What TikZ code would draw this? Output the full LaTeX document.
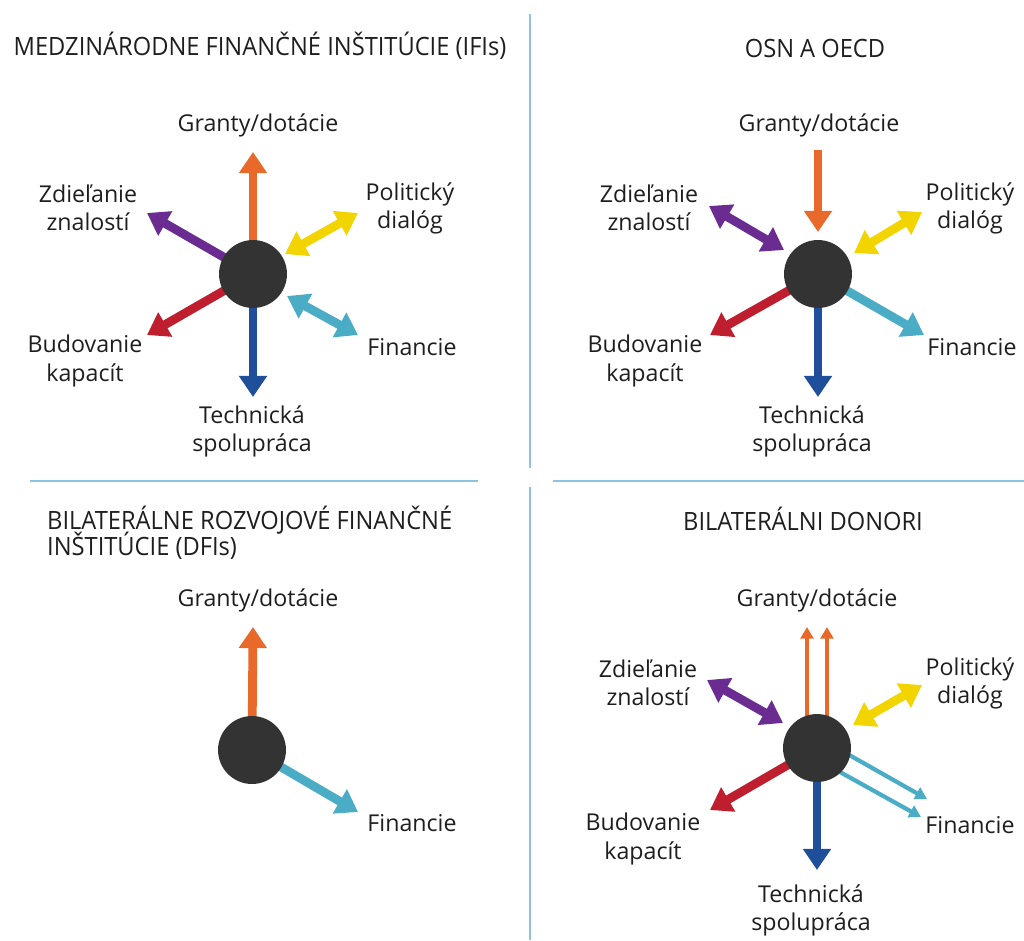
\documentclass[tikz,border=0pt]{standalone}
\usepackage{fontspec}
\usepackage{graphicx}
\setmainfont{Open Sans}
\usetikzlibrary{arrows.meta}
\definecolor{corange}{HTML}{E8692A}
\definecolor{cpurple}{HTML}{6A2C91}
\definecolor{cyellow}{HTML}{F2D500}
\definecolor{cred}{HTML}{BE1E2D}
\definecolor{ccyan}{HTML}{4BACC6}
\definecolor{cblue}{HTML}{1F4E9A}
\definecolor{hubgray}{HTML}{333333}
\definecolor{divblue}{HTML}{8DC3E0}
\definecolor{txt}{HTML}{1E1E1E}
\newcommand\ttlsc[1]{\scalebox{0.94}[1]{#1}}
\tikzset{
  lbl/.style={font=\fontsize{19.8}{24}\selectfont, align=center, text=txt, inner sep=0},
  ttl/.style={font=\fontsize{21.5}{24}\selectfont, text=txt, inner sep=0},
  hub/.style={circle, fill=hubgray, minimum size=58pt, inner sep=0},
  fat/.style={line width=7.5pt, -{Triangle[length=18pt,width=23pt]}},
  fatboth/.style={line width=7.5pt, {Triangle[length=18pt,width=23pt]}-{Triangle[length=18pt,width=23pt]}},
  thinarr/.style={line width=3.6pt, -{Triangle[length=10pt,width=11pt]}},
  divider/.style={draw=divblue, line width=1.3pt}
}
\begin{document}
\begin{tikzpicture}[x=0.03cm,y=-0.03cm]
\useasboundingbox (0,0) rectangle (1024,940);
% dividers
\coordinate (v1a) at (530,14); \coordinate (v1b) at (530,468);
\coordinate (v2a) at (530,487); \coordinate (v2b) at (530,940);
\coordinate (h1a) at (30,481); \coordinate (h1b) at (478,481);
\coordinate (h2a) at (553,481); \coordinate (h2b) at (1024,481);
\draw[divider] (v1a) -- (v1b);
\draw[divider] (v2a) -- (v2b);
\draw[divider] (h1a) -- (h1b);
\draw[divider] (h2a) -- (h2b);

% titles
\node[ttl, anchor=base] (t1) at (260,55) {\ttlsc{MEDZINÁRODNE FINANČNÉ INŠTITÚCIE (IFIs)}};
\node[ttl, anchor=base] (t2) at (815,57) {\ttlsc{OSN A OECD}};
\node[ttl, anchor=base west] (t3a) at (47,529) {\ttlsc{BILATERÁLNE ROZVOJOVÉ FINANČNÉ}};
\node[ttl, anchor=base west] (t3b) at (47,555) {\ttlsc{INŠTITÚCIE (DFIs)}};
\node[ttl, anchor=base] (t4) at (803,530) {\ttlsc{BILATERÁLNI DONORI}};

% ===== Panel 1 (top-left)
\coordinate (c1) at (253,274);
\coordinate (p1o) at (253,152);
\coordinate (p1p) at (147,213);
\coordinate (p1r) at (147,335);
\coordinate (p1b) at (253,397);
\coordinate (p1y1) at (285,254); \coordinate (p1y2) at (358,213);
\coordinate (p1c1) at (287,296); \coordinate (p1c2) at (358,335);
\draw[fat, corange] (c1) -- (p1o);
\draw[fat, cpurple] (c1) -- (p1p);
\draw[fat, cred] (c1) -- (p1r);
\draw[fat, cblue] (c1) -- (p1b);
\draw[fatboth, cyellow] (p1y1) -- (p1y2);
\draw[fatboth, ccyan] (p1c1) -- (p1c2);
\node[hub] (h1) at (c1) {};
\node[lbl] (l1g) at (258,125) {Granty/dotácie};
\node[lbl] (l1z) at (88,208) {Zdieľanie\\znalostí};
\node[lbl] (l1pd) at (410,208) {Politický\\dialóg};
\node[lbl] (l1bk) at (85,361) {Budovanie\\kapacít};
\node[lbl] (l1f) at (412,347) {Financie};
\node[lbl] (l1t) at (252,431) {Technická\\spolupráca};

% ===== Panel 2 (top-right)
\coordinate (c2) at (818,274);
\coordinate (p2os) at (818,150); \coordinate (p2oe) at (818,232);
\coordinate (p2p1) at (709,206); \coordinate (p2p2) at (784,250);
\coordinate (p2y1) at (854,253); \coordinate (p2y2) at (922,212);
\coordinate (p2r) at (710,335);
\coordinate (p2c) at (924,335);
\coordinate (p2b) at (818,397);
\draw[fat, corange] (p2os) -- (p2oe);
\draw[fatboth, cpurple] (p2p1) -- (p2p2);
\draw[fatboth, cyellow] (p2y1) -- (p2y2);
\draw[fat, cred] (c2) -- (p2r);
\draw[fat, ccyan] (c2) -- (p2c);
\draw[fat, cblue] (c2) -- (p2b);
\node[hub] (h2) at (c2) {};
\node[lbl] (l2g) at (819,125) {Granty/dotácie};
\node[lbl] (l2z) at (649,208) {Zdieľanie\\znalostí};
\node[lbl] (l2pd) at (970,208) {Politický\\dialóg};
\node[lbl] (l2bk) at (645,361) {Budovanie\\kapacít};
\node[lbl] (l2f) at (972,347) {Financie};
\node[lbl] (l2t) at (812,431) {Technická\\spolupráca};

% ===== Panel 3 (bottom-left)
\coordinate (c3) at (252,750);
\coordinate (p3o) at (253,627);
\coordinate (p3c) at (358,812);
\draw[fat, corange] (c3) -- (p3o);
\draw[fat, ccyan] (c3) -- (p3c);
\node[hub] (h3) at (c3) {};
\node[lbl] (l3g) at (258,600) {Granty/dotácie};
\node[lbl] (l3f) at (412,823) {Financie};

% ===== Panel 4 (bottom-right)
\coordinate (c4) at (817,748);
\coordinate (p4o1s) at (807,745); \coordinate (p4o1e) at (807,627);
\coordinate (p4o2s) at (827,745); \coordinate (p4o2e) at (827,627);
\coordinate (p4p1) at (707,680); \coordinate (p4p2) at (783,723);
\coordinate (p4y1) at (853,725); \coordinate (p4y2) at (922,685);
\coordinate (p4r) at (710,810);
\coordinate (p4c1s) at (821,739); \coordinate (p4c1e) at (927,799);
\coordinate (p4c2s) at (813,757); \coordinate (p4c2e) at (921,817);
\coordinate (p4b) at (817,870);
\draw[thinarr, corange] (p4o1s) -- (p4o1e);
\draw[thinarr, corange] (p4o2s) -- (p4o2e);
\draw[fatboth, cpurple] (p4p1) -- (p4p2);
\draw[fatboth, cyellow] (p4y1) -- (p4y2);
\draw[fat, cred] (c4) -- (p4r);
\draw[thinarr, ccyan] (p4c1s) -- (p4c1e);
\draw[thinarr, ccyan] (p4c2s) -- (p4c2e);
\draw[fat, cblue] (c4) -- (p4b);
\node[hub] (h4) at (c4) {};
\node[lbl] (l4g) at (817,600) {Granty/dotácie};
\node[lbl] (l4z) at (648,683) {Zdieľanie\\znalostí};
\node[lbl] (l4pd) at (970,683) {Politický\\dialóg};
\node[lbl] (l4bk) at (643,839) {Budovanie\\kapacít};
\node[lbl] (l4f) at (970,825) {Financie};
\node[lbl] (l4t) at (811,910) {Technická\\spolupráca};
\end{tikzpicture}
\end{document}
